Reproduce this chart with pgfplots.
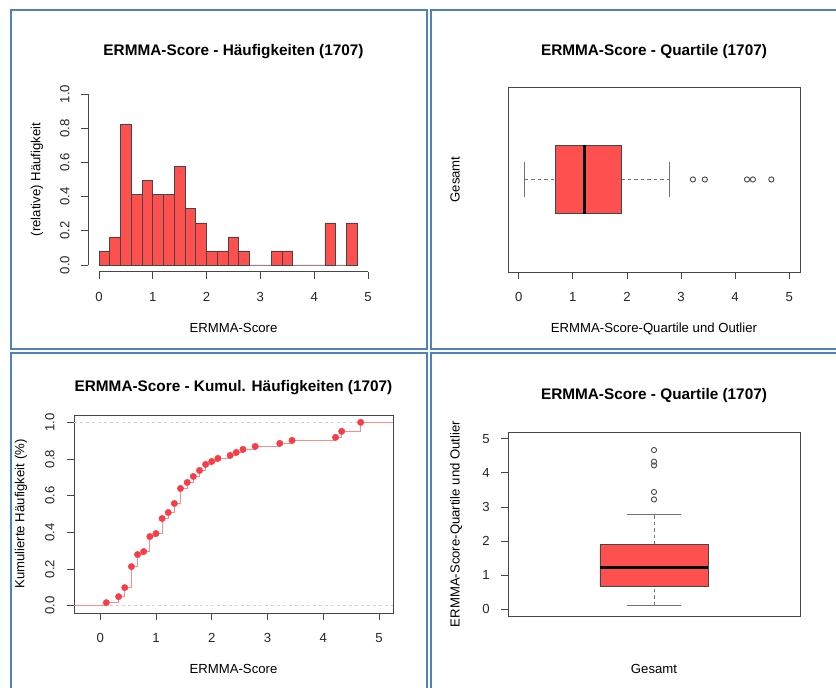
\documentclass[border=0pt]{standalone}
\usepackage{pgfplots}
\usepackage{pgfplotstable}
\pgfplotsset{compat=1.18}
\usepackage{fontspec}
\setmainfont{Liberation Sans}

\definecolor{frameblue}{RGB}{79,129,189}
\definecolor{barred}{RGB}{255,80,80}
\definecolor{edgegray}{RGB}{70,70,70}
\definecolor{ecdfline}{RGB}{255,140,140}
\definecolor{ecdfpt}{RGB}{250,60,70}
\definecolor{dashgray}{RGB}{210,210,210}
\definecolor{whiskgray}{RGB}{115,115,115}

\newcommand{\tickfont}{\fontsize{13.2}{15}\selectfont}
\newcommand{\labfont}{\fontsize{13.2}{15}\selectfont}
\newcommand{\titfont}{\fontsize{15.4}{18}\selectfont\bfseries}

% ECDF of the 61 ERMMA scores
\pgfplotstableread{
x F
0.11 0.0164
0.33 0.0492
0.44 0.0984
0.56 0.2131
0.67 0.2787
0.78 0.2951
0.89 0.3770
1.00 0.3934
1.11 0.4754
1.22 0.5082
1.33 0.5574
1.44 0.6393
1.56 0.6721
1.67 0.7049
1.78 0.7377
1.89 0.7705
2.00 0.7869
2.11 0.8033
2.33 0.8197
2.44 0.8361
2.56 0.8525
2.78 0.8689
3.22 0.8852
3.44 0.9016
4.22 0.9180
4.33 0.9508
4.67 1.0000
}\ecdf

% histogram (density), left bin edges
\pgfplotstableread{
x d
0.0 0.082
0.2 0.164
0.4 0.820
0.6 0.410
0.8 0.492
1.0 0.410
1.2 0.410
1.4 0.574
1.6 0.328
1.8 0.246
2.0 0.082
2.2 0.082
2.4 0.164
2.6 0.082
2.8 0
3.0 0
3.2 0.082
3.4 0.082
3.6 0
3.8 0
4.0 0
4.2 0.246
4.4 0
4.6 0.246
4.8 0
}\hist

\pgfplotsset{
  rstyle/.style={
    scale only axis,
    anchor=south west,
    enlargelimits=false,
    tick align=outside,
    tick pos=left,
    major tick length=7bp,
    every tick/.style={edgegray, line width=0.8bp},
    axis line style={edgegray, line width=0.8bp},
    tick label style={font=\tickfont, inner sep=0pt, text=black!85},
    /pgf/number format/assume math mode=true,
    xticklabel style={anchor=north},
    xticklabel shift=13bp,
  },
  rotyt/.style={
    yticklabel style={rotate=90, anchor=south,
      /pgf/number format/.cd, fixed, fixed zerofill, precision=1},
    yticklabel shift=#1,
  },
  whisk/.style={whiskgray, line width=1bp, mark=none},
  whiskd/.style={whiskgray, line width=1bp, mark=none, dash pattern=on 3.5bp off 3bp},
}

\begin{document}
\begin{tikzpicture}
\useasboundingbox (0,0) rectangle (836bp,688bp);
\fill[white] (0,0) rectangle (836bp,688bp);

% blue cell frames
\begin{scope}[frameblue, line width=2bp]
\draw (11bp,678bp) rectangle (427bp,339bp);
\draw (430.5bp,678bp) rectangle (846bp,339bp);
\draw (11bp,335bp) rectangle (427bp,-10bp);
\draw (430.5bp,335bp) rectangle (846bp,-10bp);
\end{scope}

% ---------- Panel 1: histogram ----------
\begin{axis}[rstyle, rotyt=11.6bp,
  at={(88.24bp,416.16bp)}, width=290.5bp, height=184.7bp,
  xmin=-0.2, xmax=5.2, ymin=-0.04, ymax=1.04,
  axis x line*=bottom, axis y line*=left,
  x axis line style={draw=none}, y axis line style={draw=none},
  xtick={0,1,2,3,4,5}, ytick={0,0.2,0.4,0.6,0.8,1.0},
  clip=false]
\addplot[ybar interval, fill=barred, draw=edgegray, line width=0.8bp] table[x=x,y=d] {\hist};
\addplot[edgegray, line width=0.8bp, mark=none] coordinates {(0,-0.04) (5,-0.04)};
\addplot[edgegray, line width=0.8bp, mark=none] coordinates {(-0.2,0) (-0.2,1)};
\end{axis}

% ---------- Panel 2: horizontal boxplot ----------
\begin{axis}[rstyle,
  at={(508bp,416bp)}, width=292bp, height=185bp,
  xmin=-0.2, xmax=5.2, ymin=0.46, ymax=1.54,
  xtick={0,1,2,3,4,5}, ytick=\empty]
\addplot[whiskd] coordinates {(0.11,1) (0.67,1)};
\addplot[whiskd] coordinates {(1.89,1) (2.78,1)};
\addplot[whisk] coordinates {(0.11,0.9) (0.11,1.1)};
\addplot[whisk] coordinates {(2.78,0.9) (2.78,1.1)};
\addplot[fill=barred, draw=edgegray, line width=0.8bp, mark=none] coordinates {(0.67,0.8) (1.89,0.8) (1.89,1.2) (0.67,1.2) (0.67,0.8)};
\addplot[black, line width=2.6bp, mark=none] coordinates {(1.22,0.8) (1.22,1.2)};
\addplot[only marks, mark=o, mark size=2.6bp, edgegray, line width=0.9bp] coordinates {(3.22,1) (3.44,1) (4.22,1) (4.33,1) (4.67,1)};
\end{axis}

% ---------- Panel 3: ECDF ----------
\begin{axis}[rstyle, rotyt=12.4bp,
  at={(74bp,75bp)}, width=319bp, height=198bp,
  xmin=-0.47, xmax=5.25, ymin=-0.04, ymax=1.04,
  xtick={0,1,2,3,4,5}, ytick={0,0.2,0.4,0.6,0.8,1.0}]
\addplot[dashgray, dashed, line width=0.8bp, mark=none] coordinates {(-0.47,0) (5.25,0)};
\addplot[dashgray, dashed, line width=0.8bp, mark=none] coordinates {(-0.47,1) (5.25,1)};
\addplot[const plot, ecdfline, line width=0.8bp, mark=none] coordinates {(-0.47,0) (0.11,0.0164) (0.33,0.0492) (0.44,0.0984) (0.56,0.2131) (0.67,0.2787) (0.78,0.2951) (0.89,0.3770) (1.00,0.3934) (1.11,0.4754) (1.22,0.5082) (1.33,0.5574) (1.44,0.6393) (1.56,0.6721) (1.67,0.7049) (1.78,0.7377) (1.89,0.7705) (2.00,0.7869) (2.11,0.8033) (2.33,0.8197) (2.44,0.8361) (2.56,0.8525) (2.78,0.8689) (3.22,0.8852) (3.44,0.9016) (4.22,0.9180) (4.33,0.9508) (4.67,1.0) (5.25,1.0)};
\addplot[only marks, mark=*, mark size=3.2bp, ecdfpt, draw=none, fill=ecdfpt] table[x=x,y=F] {\ecdf};
\end{axis}

% ---------- Panel 4: vertical boxplot ----------
\begin{axis}[rstyle,
  at={(508bp,72bp)}, width=292bp, height=184bp,
  xmin=0.46, xmax=1.54, ymin=-0.2, ymax=5.2,
  xtick=\empty, ytick={0,1,2,3,4,5},
  yticklabel style={anchor=east}, yticklabel shift=11bp]
\addplot[whiskd] coordinates {(1,0.11) (1,0.67)};
\addplot[whiskd] coordinates {(1,1.89) (1,2.78)};
\addplot[whisk] coordinates {(0.9,0.11) (1.1,0.11)};
\addplot[whisk] coordinates {(0.9,2.78) (1.1,2.78)};
\addplot[fill=barred, draw=edgegray, line width=0.8bp, mark=none] coordinates {(0.8,0.67) (1.2,0.67) (1.2,1.89) (0.8,1.89) (0.8,0.67)};
\addplot[black, line width=2.6bp, mark=none] coordinates {(0.8,1.22) (1.2,1.22)};
\addplot[only marks, mark=o, mark size=2.6bp, edgegray, line width=0.9bp] coordinates {(1,3.22) (1,3.44) (1,4.22) (1,4.33) (1,4.67)};
\end{axis}

% ---------- titles and axis labels ----------
\node[font=\titfont, anchor=base] at (233.5bp,632bp) {ERMMA-Score - Häufigkeiten (1707)};
\node[font=\titfont, anchor=base] at (654bp,632bp) {ERMMA-Score - Quartile (1707)};
\node[font=\titfont, anchor=base] at (233.5bp,296.5bp) {ERMMA-Score - Kumul. Häufigkeiten (1707)};
\node[font=\titfont, anchor=base] at (654bp,288bp) {ERMMA-Score - Quartile (1707)};

\node[font=\labfont, anchor=base] at (233.5bp,355bp) {ERMMA-Score};
\node[font=\labfont, anchor=base] at (654bp,355bp) {ERMMA-Score-Quartile und Outlier};
\node[font=\labfont, anchor=base] at (233.5bp,15bp) {ERMMA-Score};
\node[font=\labfont, anchor=base] at (654bp,15bp) {Gesamt};

\node[font=\labfont, rotate=90, anchor=center] at (37bp,508.5bp) {(relative) Häufigkeit};
\node[font=\labfont, rotate=90, anchor=center] at (455bp,508.5bp) {Gesamt};
\node[font=\labfont, rotate=90, anchor=center] at (21bp,174bp) {Kumulierte Häufigkeit (\%)};
\node[font=\labfont, rotate=90, anchor=center] at (456bp,164bp) {ERMMA-Score-Quartile und Outlier};
\end{tikzpicture}
\end{document}
